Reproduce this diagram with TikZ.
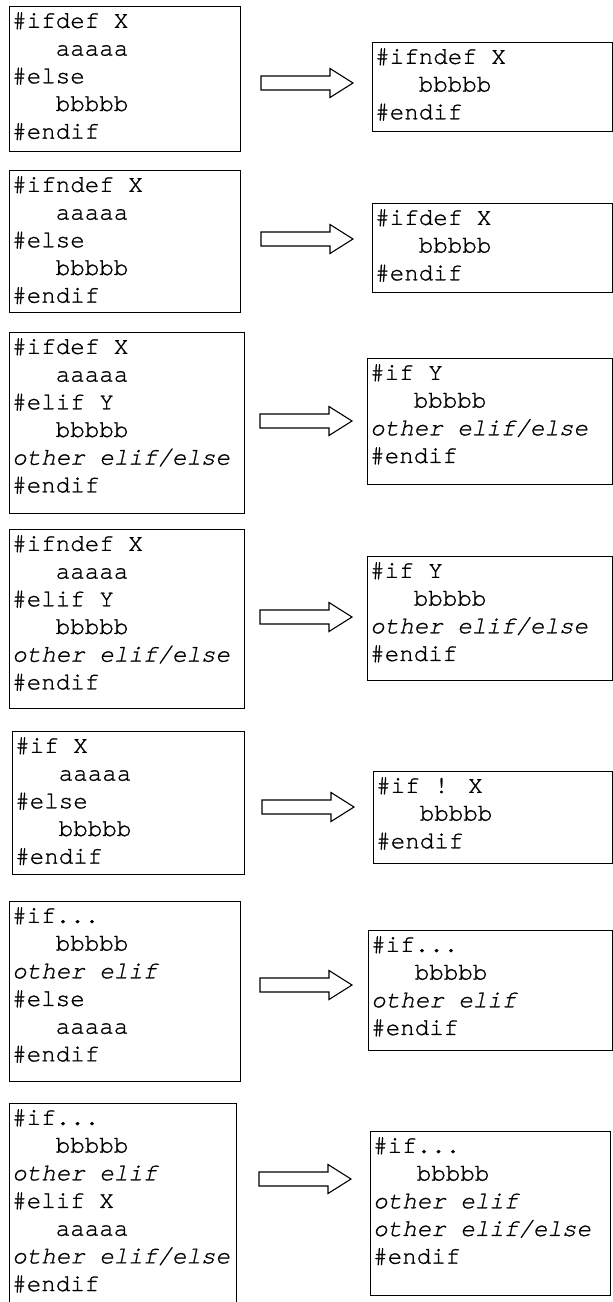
\documentclass[tikz,border=0pt]{standalone}
\usepackage{fontspec}
\newfontfamily\codefont{texgyrecursor}[Extension=.otf,
  UprightFont=*-regular, ItalicFont=*-italic,
  BoldFont=*-bold, BoldItalicFont=*-bolditalic,
  UprightFeatures={FakeBold=1}, ItalicFeatures={FakeBold=1}]
\usetikzlibrary{calc}
\newcommand\codeindent{\hphantom{xxx}}

\tikzset{
  codebox/.style={draw, line width=1.4pt, inner sep=0pt, anchor=north west},
  codetext/.style={font=\codefont\fontsize{24.2pt}{27.7pt}\selectfont,
    align=left, anchor=north west, inner sep=0pt},
  % hollow block arrow, centred on its placement point, pointing right
  blockarrow/.pic={
    \draw[line width=1.1pt, line join=miter]
      (-46,-7) -- (23,-7) -- (23,-14.5) -- (46,0) -- (23,14.5)
      -- (23,7) -- (-46,7) -- cycle;
  }
}

\begin{document}
\begin{tikzpicture}[x={(1pt,0)}, y={(0,-1pt)}]
\clip (0,0) rectangle (613,1302);
\fill[white] (0,0) rectangle (613,1302);

% row 1: #ifdef/#else
\node[codebox, minimum width=231pt, minimum height=145pt] (l1) at (9,6) {};
\node[codetext] (l1t) at ($(l1.north west)+(3,6)$)
  {\#ifdef X\\\codeindent aaaaa\\\#else\\\codeindent bbbbb\\\#endif};
\node[codebox, minimum width=240pt, minimum height=89pt] (r1) at (372,42) {};
\node[codetext] (r1t) at ($(r1.north west)+(3,6)$)
  {\#ifndef X\\\codeindent bbbbb\\\#endif};
\pic (a1) at (307,83) {blockarrow};

% row 2: #ifndef/#else
\node[codebox, minimum width=231pt, minimum height=142pt] (l2) at (9,170) {};
\node[codetext] (l2t) at ($(l2.north west)+(3,6)$)
  {\#ifndef X\\\codeindent aaaaa\\\#else\\\codeindent bbbbb\\\#endif};
\node[codebox, minimum width=240pt, minimum height=89pt] (r2) at (372,203) {};
\node[codetext] (r2t) at ($(r2.north west)+(3,6)$)
  {\#ifdef X\\\codeindent bbbbb\\\#endif};
\pic (a2) at (307,239) {blockarrow};

% row 3: #ifdef/#elif
\node[codebox, minimum width=235pt, minimum height=181pt] (l3) at (9,332) {};
\node[codetext] (l3t) at ($(l3.north west)+(3,6)$)
  {\#ifdef X\\\codeindent aaaaa\\\#elif Y\\\codeindent bbbbb\\{\itshape other elif/else}\\\#endif};
\node[codebox, minimum width=245pt, minimum height=126pt] (r3) at (367,358) {};
\node[codetext] (r3t) at ($(r3.north west)+(3,6)$)
  {\#if Y\\\codeindent bbbbb\\{\itshape other elif/else}\\\#endif};
\pic (a3) at (306,421) {blockarrow};

% row 4: #ifndef/#elif
\node[codebox, minimum width=235pt, minimum height=179pt] (l4) at (9,529) {};
\node[codetext] (l4t) at ($(l4.north west)+(3,6)$)
  {\#ifndef X\\\codeindent aaaaa\\\#elif Y\\\codeindent bbbbb\\{\itshape other elif/else}\\\#endif};
\node[codebox, minimum width=245pt, minimum height=124pt] (r4) at (367,556) {};
\node[codetext] (r4t) at ($(r4.north west)+(3,6)$)
  {\#if Y\\\codeindent bbbbb\\{\itshape other elif/else}\\\#endif};
\pic (a4) at (306,617) {blockarrow};

% row 5: #if/#else
\node[codebox, minimum width=232pt, minimum height=143pt] (l5) at (12,731) {};
\node[codetext] (l5t) at ($(l5.north west)+(3,6)$)
  {\#if X\\\codeindent aaaaa\\\#else\\\codeindent bbbbb\\\#endif};
\node[codebox, minimum width=239pt, minimum height=92pt] (r5) at (373,771) {};
\node[codetext] (r5t) at ($(r5.north west)+(3,6)$)
  {\#if ! X\\\codeindent bbbbb\\\#endif};
\pic (a5) at (308,807) {blockarrow};

% row 6: trailing #else
\node[codebox, minimum width=231pt, minimum height=180pt] (l6) at (9,901) {};
\node[codetext] (l6t) at ($(l6.north west)+(3,6)$)
  {\#if...\\\codeindent bbbbb\\{\itshape other elif}\\\#else\\\codeindent aaaaa\\\#endif};
\node[codebox, minimum width=244pt, minimum height=120pt] (r6) at (368,930) {};
\node[codetext] (r6t) at ($(r6.north west)+(3,6)$)
  {\#if...\\\codeindent bbbbb\\{\itshape other elif}\\\#endif};
\pic (a6) at (306,985) {blockarrow};

% row 7: inner #elif
\node[codebox, minimum width=227pt, minimum height=220pt] (l7) at (9,1103) {};
\node[codetext] (l7t) at ($(l7.north west)+(3,6)$)
  {\#if...\\\codeindent bbbbb\\{\itshape other elif}\\\#elif X\\\codeindent aaaaa\\{\itshape other elif/else}\\\#endif};
\node[codebox, minimum width=240pt, minimum height=164pt] (r7) at (370,1131) {};
\node[codetext] (r7t) at ($(r7.north west)+(3,6)$)
  {\#if...\\\codeindent bbbbb\\{\itshape other elif}\\{\itshape other elif/else}\\\#endif};
\pic (a7) at (305,1179) {blockarrow};
\end{tikzpicture}
\end{document}
